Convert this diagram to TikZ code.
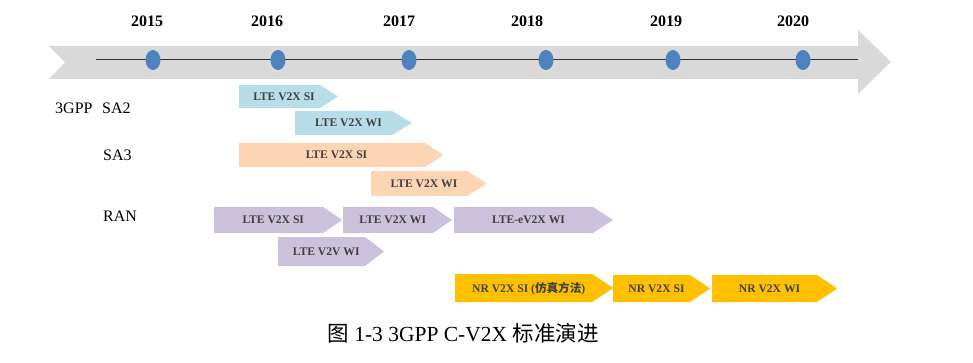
\documentclass[tikz,border=0pt]{standalone}
\usepackage{fontspec}
\setmainfont{Liberation Serif}
\newfontfamily\cjk{Noto Sans CJK SC}
\definecolor{bandgray}{HTML}{D9D9D9}
\definecolor{dotblue}{HTML}{4F81BD}
\definecolor{sablue}{HTML}{B7DEE8}
\definecolor{sapeach}{HTML}{FCD5B5}
\definecolor{ranlav}{HTML}{CCC1DA}
\definecolor{nryel}{HTML}{FFC000}
\definecolor{lbltext}{HTML}{404040}
\tikzset{
  lbl/.style={font=\fontsize{11.6}{13}\selectfont\bfseries, text=lbltext, inner sep=0pt, anchor=base},
  yearlbl/.style={font=\fontsize{16}{18}\selectfont\bfseries, inner sep=0pt, anchor=base},
  grouplbl/.style={font=\fontsize{16}{18}\selectfont, inner sep=0pt, anchor=base west},
  yeardot/.style={fill=dotblue, draw=none, ellipse, minimum width=15pt, minimum height=20pt, inner sep=0pt},
}
\usetikzlibrary{shapes.geometric}
% #1 name, #2 left, #3 top, #4 bottom, #5 body end, #6 tip, #7 colour, #8 text
\newcommand\pentarrow[8]{%
  \fill[#7] (#2,#3) -- (#5,#3) -- (#6,{(#3+#4)/2}) -- (#5,#4) -- (#2,#4) -- cycle;
  \node[lbl] (#1) at ({(#2+(#5+#6)/2)/2},{(#3+#4)/2+4}) {#8};
}
\begin{document}
\begin{tikzpicture}[x=1pt,y=-1pt]
\useasboundingbox (0,0) rectangle (973,363);
% timeline band
\fill[bandgray] (49,46) -- (858,46) -- (858,30) -- (891,62) -- (858,94) -- (858,79) -- (49,79) -- (65,62.5) -- cycle;
\coordinate (lineS) at (96,60);
\coordinate (lineE) at (858,60);
\draw[line width=1pt, black!80] (lineS) -- (lineE);
% dots and years
\foreach \yr/\dx/\tx in {2015/153/147, 2016/278/267, 2017/409/399, 2018/546/527, 2019/673/666, 2020/803/793}{
  \node[yeardot] (d\yr) at (\dx,60) {};
  \node[yearlbl] (y\yr) at (\tx,27) {\yr};
}
% group labels
\node[grouplbl] (g3gpp) at (55,114) {3GPP\hspace{0.6em}SA2};
\node[grouplbl] (gsa3) at (103,161) {SA3};
\node[grouplbl] (gran) at (103,222) {RAN};
% SA2
\pentarrow{sa2si}{239}{85}{108}{320}{338}{sablue}{LTE V2X SI}
\pentarrow{sa2wi}{295}{111}{135}{392}{412}{sablue}{LTE V2X WI}
% SA3
\pentarrow{sa3si}{239}{143}{167}{425}{443}{sapeach}{LTE V2X SI}
\pentarrow{sa3wi}{371}{171}{196}{467}{487}{sapeach}{LTE V2X WI}
% RAN
\pentarrow{ransi}{214}{207}{233}{323}{342}{ranlav}{LTE V2X SI}
\pentarrow{ranwi}{343}{207}{233}{433}{452}{ranlav}{LTE V2X WI}
\pentarrow{ranewi}{454}{207}{233}{593}{613}{ranlav}{LTE-eV2X WI}
\pentarrow{ranvv}{278}{237}{266}{365}{384}{ranlav}{LTE V2V WI}
% NR
\pentarrow{nrsisim}{455}{274}{302}{592}{613}{nryel}{NR V2X SI ({\cjk 仿真方法})}
\pentarrow{nrsi}{613}{275}{302}{690}{710}{nryel}{NR V2X SI}
\pentarrow{nrwi}{712}{275}{302}{817}{837}{nryel}{NR V2X WI}
% caption
\node[font=\fontsize{21.5}{25}\selectfont, inner sep=0pt, anchor=base] (caption) at (463,341) {{\cjk 图} 1-3 3GPP C-V2X {\cjk 标准演进}};
\end{tikzpicture}
\end{document}
